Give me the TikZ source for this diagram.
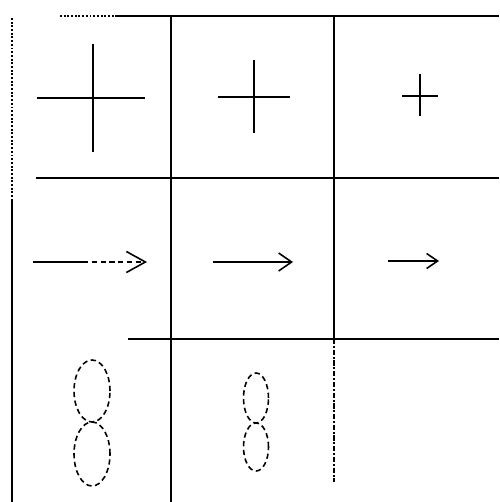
\documentclass[tikz,border=0pt]{standalone}
\usepackage{tikz}
\usetikzlibrary{arrows.meta}

\begin{document}
\begin{tikzpicture}[x=0.02cm, y=-0.02cm,
    gridline/.style={line width=1.1pt},
    symline/.style={line width=0.9pt}]
    \useasboundingbox (0,0) rectangle (499,502);
    % cell centres
    \coordinate (c11) at (93,98);
    \coordinate (c12) at (254,97);
    \coordinate (c13) at (420,96);
    \coordinate (c21) at (33,262);
    \coordinate (c22) at (213,262);
    \coordinate (c23) at (388,261);
    \coordinate (c31) at (92,422);
    \coordinate (c32) at (256,423);
    % grid
    \draw[gridline, densely dotted] (60,16) -- (115,16);
    \draw[gridline] (115,16) -- (499,16);
    \draw[gridline] (36,178) -- (499,178);
    \draw[gridline] (128,339) -- (499,339);
    \draw[gridline, densely dotted] (12,18) -- (12,200);
    \draw[gridline] (12,200) -- (12,502);
    \draw[gridline] (171,16) -- (171,502);
    \draw[gridline] (334,16) -- (334,339);
    \draw[gridline, densely dash dot] (334,339) -- (334,482);
    % crosses
    \draw[symline] (c11) ++(-56,0) -- ++(108,0);
    \draw[symline] (c11) ++(0,-54) -- ++(0,108);
    \draw[symline] (c12) ++(-36,0) -- ++(72,0);
    \draw[symline] (c12) ++(0,-37) -- ++(0,73);
    \draw[symline] (c13) ++(-18,0) -- ++(36,0);
    \draw[symline] (c13) ++(0,-22) -- ++(0,42);
    % arrows
    \draw[symline] (c21) -- ++(50,0);
    \draw[symline, densely dashed, -{Straight Barb[length=0.38cm, width=0.42cm]}] (c21) ++(50,0) -- ++(64,0);
    \draw[symline, -{Straight Barb[length=0.26cm, width=0.36cm]}] (c22) -- ++(80,0);
    \draw[symline, -{Straight Barb[length=0.22cm, width=0.3cm]}] (c23) -- ++(51,0);
    % loops
    \draw[symline, densely dashed] (c31) ++(0,-31) ellipse (0.36cm and 0.62cm);
    \draw[symline, densely dashed] (c31) ++(0,32) ellipse (0.36cm and 0.64cm);
    \draw[symline, densely dashed] (c32) ++(0,-25) ellipse (0.25cm and 0.5cm);
    \draw[symline, densely dashed] (c32) ++(0,24) ellipse (0.25cm and 0.48cm);
\end{tikzpicture}
\end{document}
